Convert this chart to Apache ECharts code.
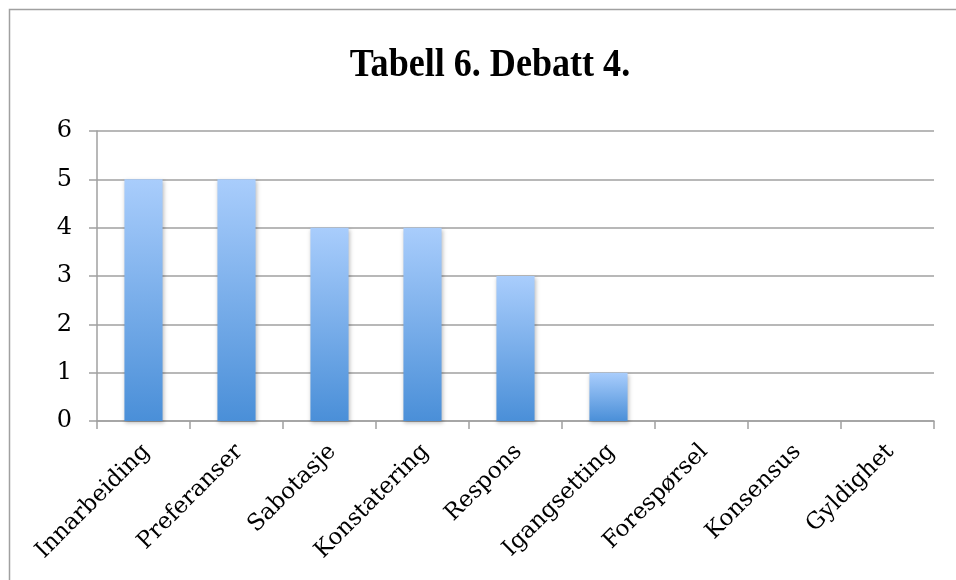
<!DOCTYPE html>
<html><head><meta charset="utf-8">
<script src="https://cdn.jsdelivr.net/npm/echarts@6/dist/echarts.min.js"></script>
<style>html,body{margin:0;padding:0;background:#fff}#c{width:956px;height:580px}</style>
</head><body><div id="c"></div>
<script>
const categories = ["Innarbeiding","Preferanser","Sabotasje","Konstatering","Respons","Igangsetting","Forespørsel","Konsensus","Gyldighet"];
const values = [5,5,4,4,3,1,0,0,0];
const yTicks = [0,1,2,3,4,5,6];
const titleText = "Tabell 6. Debatt 4.";

const chart = echarts.init(document.getElementById('c'));
chart.setOption({
  animation:false,
  backgroundColor:'#fff',
  graphic:[
    {type:'rect',shape:{x:9.5,y:9.5,width:1200,height:1200},style:{fill:'none',stroke:'#a0a0a0',lineWidth:1.5},silent:true},
    {type:'text',x:490,y:86,scaleX:0.88,originX:0,originY:0,
     style:{text:titleText,font:'bold 41px "Liberation Serif"',fill:'#000',textAlign:'center',textVerticalAlign:'bottom'}}
  ],
  grid:{left:97,right:22,top:131,bottom:159,containLabel:false},
  xAxis:{type:'category',data:categories,
    axisLine:{lineStyle:{color:'#a0a0a0',width:1.5}},
    axisTick:{show:true,length:8,lineStyle:{color:'#a0a0a0',width:1.5},alignWithLabel:false},
    axisLabel:{rotate:45,interval:0,margin:30,fontFamily:'DejaVu Serif',fontSize:23,color:'#000',padding:[0,-4,0,0]}
  },
  yAxis:{type:'value',min:0,max:6,interval:1,
    axisLine:{show:true,lineStyle:{color:'#a0a0a0',width:1.5}},
    axisTick:{show:true,length:8,lineStyle:{color:'#a0a0a0',width:1.5}},
    splitLine:{lineStyle:{color:'#a0a0a0',width:1.5}},
    axisLabel:{margin:25,fontFamily:'DejaVu Serif',fontSize:24,color:'#000',
      formatter:v=>yTicks.includes(v)?String(v):''}
  },
  series:[{type:'bar',data:values,barWidth:'41%',
    itemStyle:{color:new echarts.graphic.LinearGradient(0,0,0,1,[{offset:0,color:'#a9cdfc'},{offset:1,color:'#4a8fd8'}]),
      shadowColor:'rgba(0,0,0,0.25)',shadowBlur:4,shadowOffsetX:1,shadowOffsetY:2}
  }]
});
</script></body></html>
